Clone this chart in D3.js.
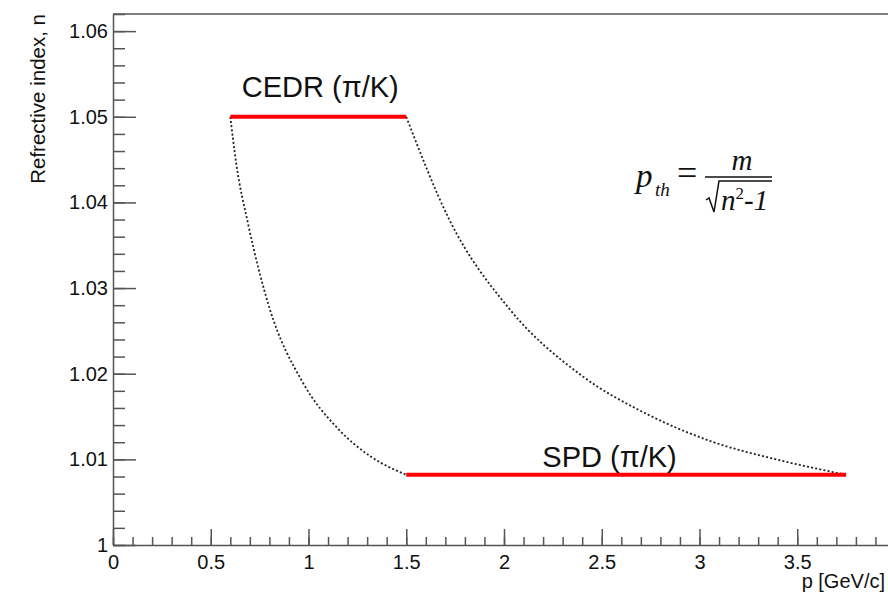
<!DOCTYPE html>
<html>
<head>
<meta charset="utf-8">
<script src="https://cdn.jsdelivr.net/npm/d3@7"></script>
<style>
  body { margin: 0; background: #fff; }
  svg { display: block; }
  .axis text { font-family: "Liberation Sans", Arial, sans-serif; font-size: 20px; fill: #111; }
  .axis path, .axis line { stroke: #555; stroke-width: 1.5; }
</style>
</head>
<body>
<svg></svg>
<script>
// threshold curves (p in GeV/c, refractive index n)
var pionP  = [0.60, 0.63, 0.69, 0.80, 0.97, 1.15, 1.32, 1.50];
var pionN  = [1.0500, 1.0446, 1.0376, 1.0277, 1.0190, 1.0136, 1.0103, 1.0082];
var kaonP  = [1.50, 1.72, 2.03, 2.39, 2.73, 3.06, 3.41, 3.75];
var kaonN  = [1.0500, 1.0380, 1.0275, 1.0199, 1.0153, 1.0121, 1.0099, 1.0082];

// detector ranges
var detNames = ["CEDR (π/K)", "SPD (π/K)"];
var detPmin  = [0.60, 1.50];
var detPmax  = [1.50, 3.75];
var detN     = [1.0500, 1.0082];

var yMajor = [1, 1.01, 1.02, 1.03, 1.04, 1.05, 1.06];
var xMajor = [0, 0.5, 1, 1.5, 2, 2.5, 3, 3.5];

var width = 888, height = 593;
var margin = {left: 113, top: 14, right: -7, bottom: 48};
var w = width - margin.left - margin.right;
var h = height - margin.top - margin.bottom;

var svg = d3.select("svg").attr("width", width).attr("height", height);
var g = svg.append("g").attr("transform", "translate(" + margin.left + "," + margin.top + ")");

var x = d3.scaleLinear().domain([0, 4]).range([0, w]);
var y = d3.scaleLinear().domain([1, 1.062]).range([h, 0]);

// frame top / right
g.append("line").attr("x1", 0).attr("x2", w).attr("y1", 0).attr("y2", 0)
  .attr("stroke", "#555").attr("stroke-width", 1.5);
g.append("line").attr("x1", w).attr("x2", w).attr("y1", 0).attr("y2", h)
  .attr("stroke", "#555").attr("stroke-width", 1.5);

// minor ticks
g.append("g").attr("class", "axis")
  .call(d3.axisLeft(y).tickValues(d3.range(1, 1.0621, 0.002)).tickSize(-12).tickFormat(""))
  .select(".domain").remove();
g.append("g").attr("class", "axis").attr("transform", "translate(0," + h + ")")
  .call(d3.axisBottom(x).tickValues(d3.range(0, 4.001, 0.1)).tickSize(-8).tickFormat(""))
  .select(".domain").remove();

// major ticks + labels
g.append("g").attr("class", "axis")
  .call(d3.axisLeft(y).tickValues(yMajor).tickSize(-23).tickPadding(5).tickSizeOuter(0)
    .tickFormat(function(d){ return d === 1 ? "1" : d3.format(".2f")(d); }));
g.append("g").attr("class", "axis").attr("transform", "translate(0," + h + ")")
  .call(d3.axisBottom(x).tickValues(xMajor).tickSize(-16).tickPadding(10).tickSizeOuter(0)
    .tickFormat(function(d){ return String(d); }));

// axis titles
svg.append("text")
  .attr("transform", "translate(45," + margin.top + ") rotate(-90)")
  .attr("text-anchor", "end")
  .style("font-family", "Liberation Sans, Arial, sans-serif").style("font-size", "20.5px").attr("fill", "#111")
  .text("Refrective index, n");
svg.append("text")
  .attr("x", 885).attr("y", 588)
  .attr("text-anchor", "end")
  .style("font-family", "Liberation Sans, Arial, sans-serif").style("font-size", "20px").attr("fill", "#111")
  .text("p [GeV/c]");

// dotted threshold curves
var line = d3.line()
  .x(function(d){ return x(d[0]); })
  .y(function(d){ return y(d[1]); })
  .curve(d3.curveMonotoneX);

[d3.zip(pionP, pionN), d3.zip(kaonP, kaonN)].forEach(function(pts){
  g.append("path")
    .attr("d", line(pts))
    .attr("fill", "none")
    .attr("stroke", "#222")
    .attr("stroke-width", 1.8)
    .attr("stroke-dasharray", "2,2.2");
});

// detector bars
detNames.forEach(function(name, i){
  g.append("line")
    .attr("x1", x(detPmin[i])).attr("x2", x(detPmax[i]))
    .attr("y1", y(detN[i])).attr("y2", y(detN[i]))
    .attr("stroke", "#ff0000").attr("stroke-width", 4);
});

// detector labels
var labelP = [1.06, 2.54];
var labelN = [1.0523, 1.0091];
detNames.forEach(function(name, i){
  g.append("text")
    .attr("x", x(labelP[i])).attr("y", y(labelN[i]))
    .attr("text-anchor", "middle")
    .style("font-family", "Liberation Sans, Arial, sans-serif").style("font-size", "29px").attr("fill", "#111")
    .text(name);
});

// formula p_th = m / sqrt(n^2-1)
var f = svg.append("g")
  .style("font-family", "Liberation Serif, Times New Roman, serif").style("font-style", "italic").attr("fill", "#111");
f.append("text").attr("x", 636).attr("y", 187).style("font-size", "33px").text("p");
f.append("text").attr("x", 655).attr("y", 196).style("font-size", "19px").text("th");
f.append("text").attr("x", 677).attr("y", 185).style("font-size", "36px").style("font-style", "normal").text("=");
f.append("line").attr("x1", 705).attr("x2", 772).attr("y1", 177).attr("y2", 177).attr("stroke", "#111").attr("stroke-width", 1.6);
f.append("text").attr("x", 742).attr("y", 170).attr("text-anchor", "middle").style("font-size", "29px").text("m");
f.append("path").attr("d", "M706,200 L709,198 L714,212 L719,181 L772,181")
  .attr("fill", "none").attr("stroke", "#111").attr("stroke-width", 1.5);
var rad = f.append("text").attr("x", 721).attr("y", 210).style("font-size", "29px");
rad.append("tspan").text("n");
rad.append("tspan").attr("dy", -11).style("font-size", "17px").style("font-style", "normal").text("2");
rad.append("tspan").attr("dy", 11).text("-1");
</script>
</body>
</html>
